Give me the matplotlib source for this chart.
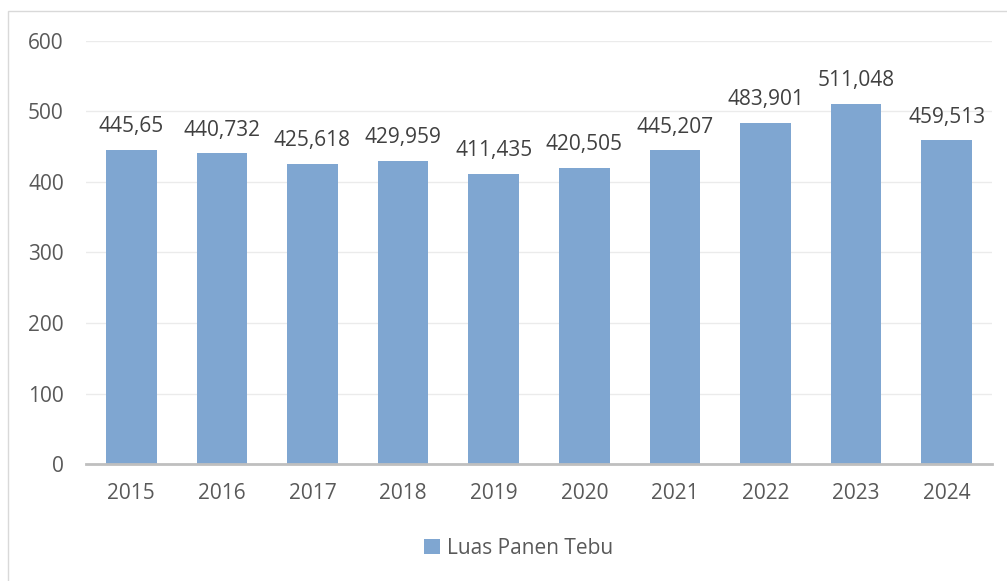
import matplotlib
matplotlib.use("Agg")
import matplotlib.pyplot as plt
from matplotlib.patches import Rectangle, Patch

years = ["2015", "2016", "2017", "2018", "2019", "2020", "2021", "2022", "2023", "2024"]
luas_panen = [445.65, 440.732, 425.618, 429.959, 411.435, 420.505, 445.207, 483.901, 511.048, 459.513]
series_name = "Luas Panen Tebu"
y_ticks = [0, 100, 200, 300, 400, 500, 600]

plt.rcParams['font.family'] = ['Open Sans', 'DejaVu Sans']

W, H = 1007, 581
fig = plt.figure(figsize=(W / 100, H / 100), dpi=100)
fig.patch.set_facecolor("white")

# outer chart frame
fig.patches.append(Rectangle((8 / W, -0.05), 1.1, 1 - 11 / H + 0.05, transform=fig.transFigure,
                             fill=False, edgecolor="#D9D9D9", linewidth=1.0))

ax = fig.add_axes([86 / W, 1 - 464 / H, (992 - 86) / W, (464 - 41) / H])
bar_color = "#7FA6D1"
x = range(len(years))
bars = ax.bar(x, luas_panen, width=0.56, color=bar_color, zorder=2)

ax.set_ylim(0, 600)
ax.set_xlim(-0.5, len(years) - 0.5)
ax.set_yticks(y_ticks)
ax.set_xticks(list(x))
ax.set_xticklabels(years)
ax.yaxis.grid(True, color="#EBEBEB", linewidth=1.0, zorder=0)
ax.set_axisbelow(True)
for s in ["top", "right", "left"]:
    ax.spines[s].set_visible(False)
ax.spines["bottom"].set_color("#BFBFBF")
ax.spines["bottom"].set_linewidth(2.0)
ax.spines["bottom"].set_zorder(3)
ax.tick_params(axis="both", length=0, labelsize=15, labelcolor="#595959")
ax.tick_params(axis="y", pad=16)
ax.tick_params(axis="x", pad=14)

for xi, v in zip(x, luas_panen):
    label = str(v).replace(".", ",")
    ax.annotate(label, (xi, v), xytext=(0, 9), textcoords="offset points",
                ha="center", va="bottom", fontsize=15, color="#404040")

leg = fig.legend(handles=[Patch(facecolor=bar_color, edgecolor="none")], labels=[series_name],
                 loc="center", bbox_to_anchor=(519 / W, 1 - 548 / H), frameon=False,
                 fontsize=15, handlelength=0.75, handleheight=0.75, handletextpad=0.35)
for t in leg.get_texts():
    t.set_color("#595959")

fig.savefig("out.png", dpi=100)
